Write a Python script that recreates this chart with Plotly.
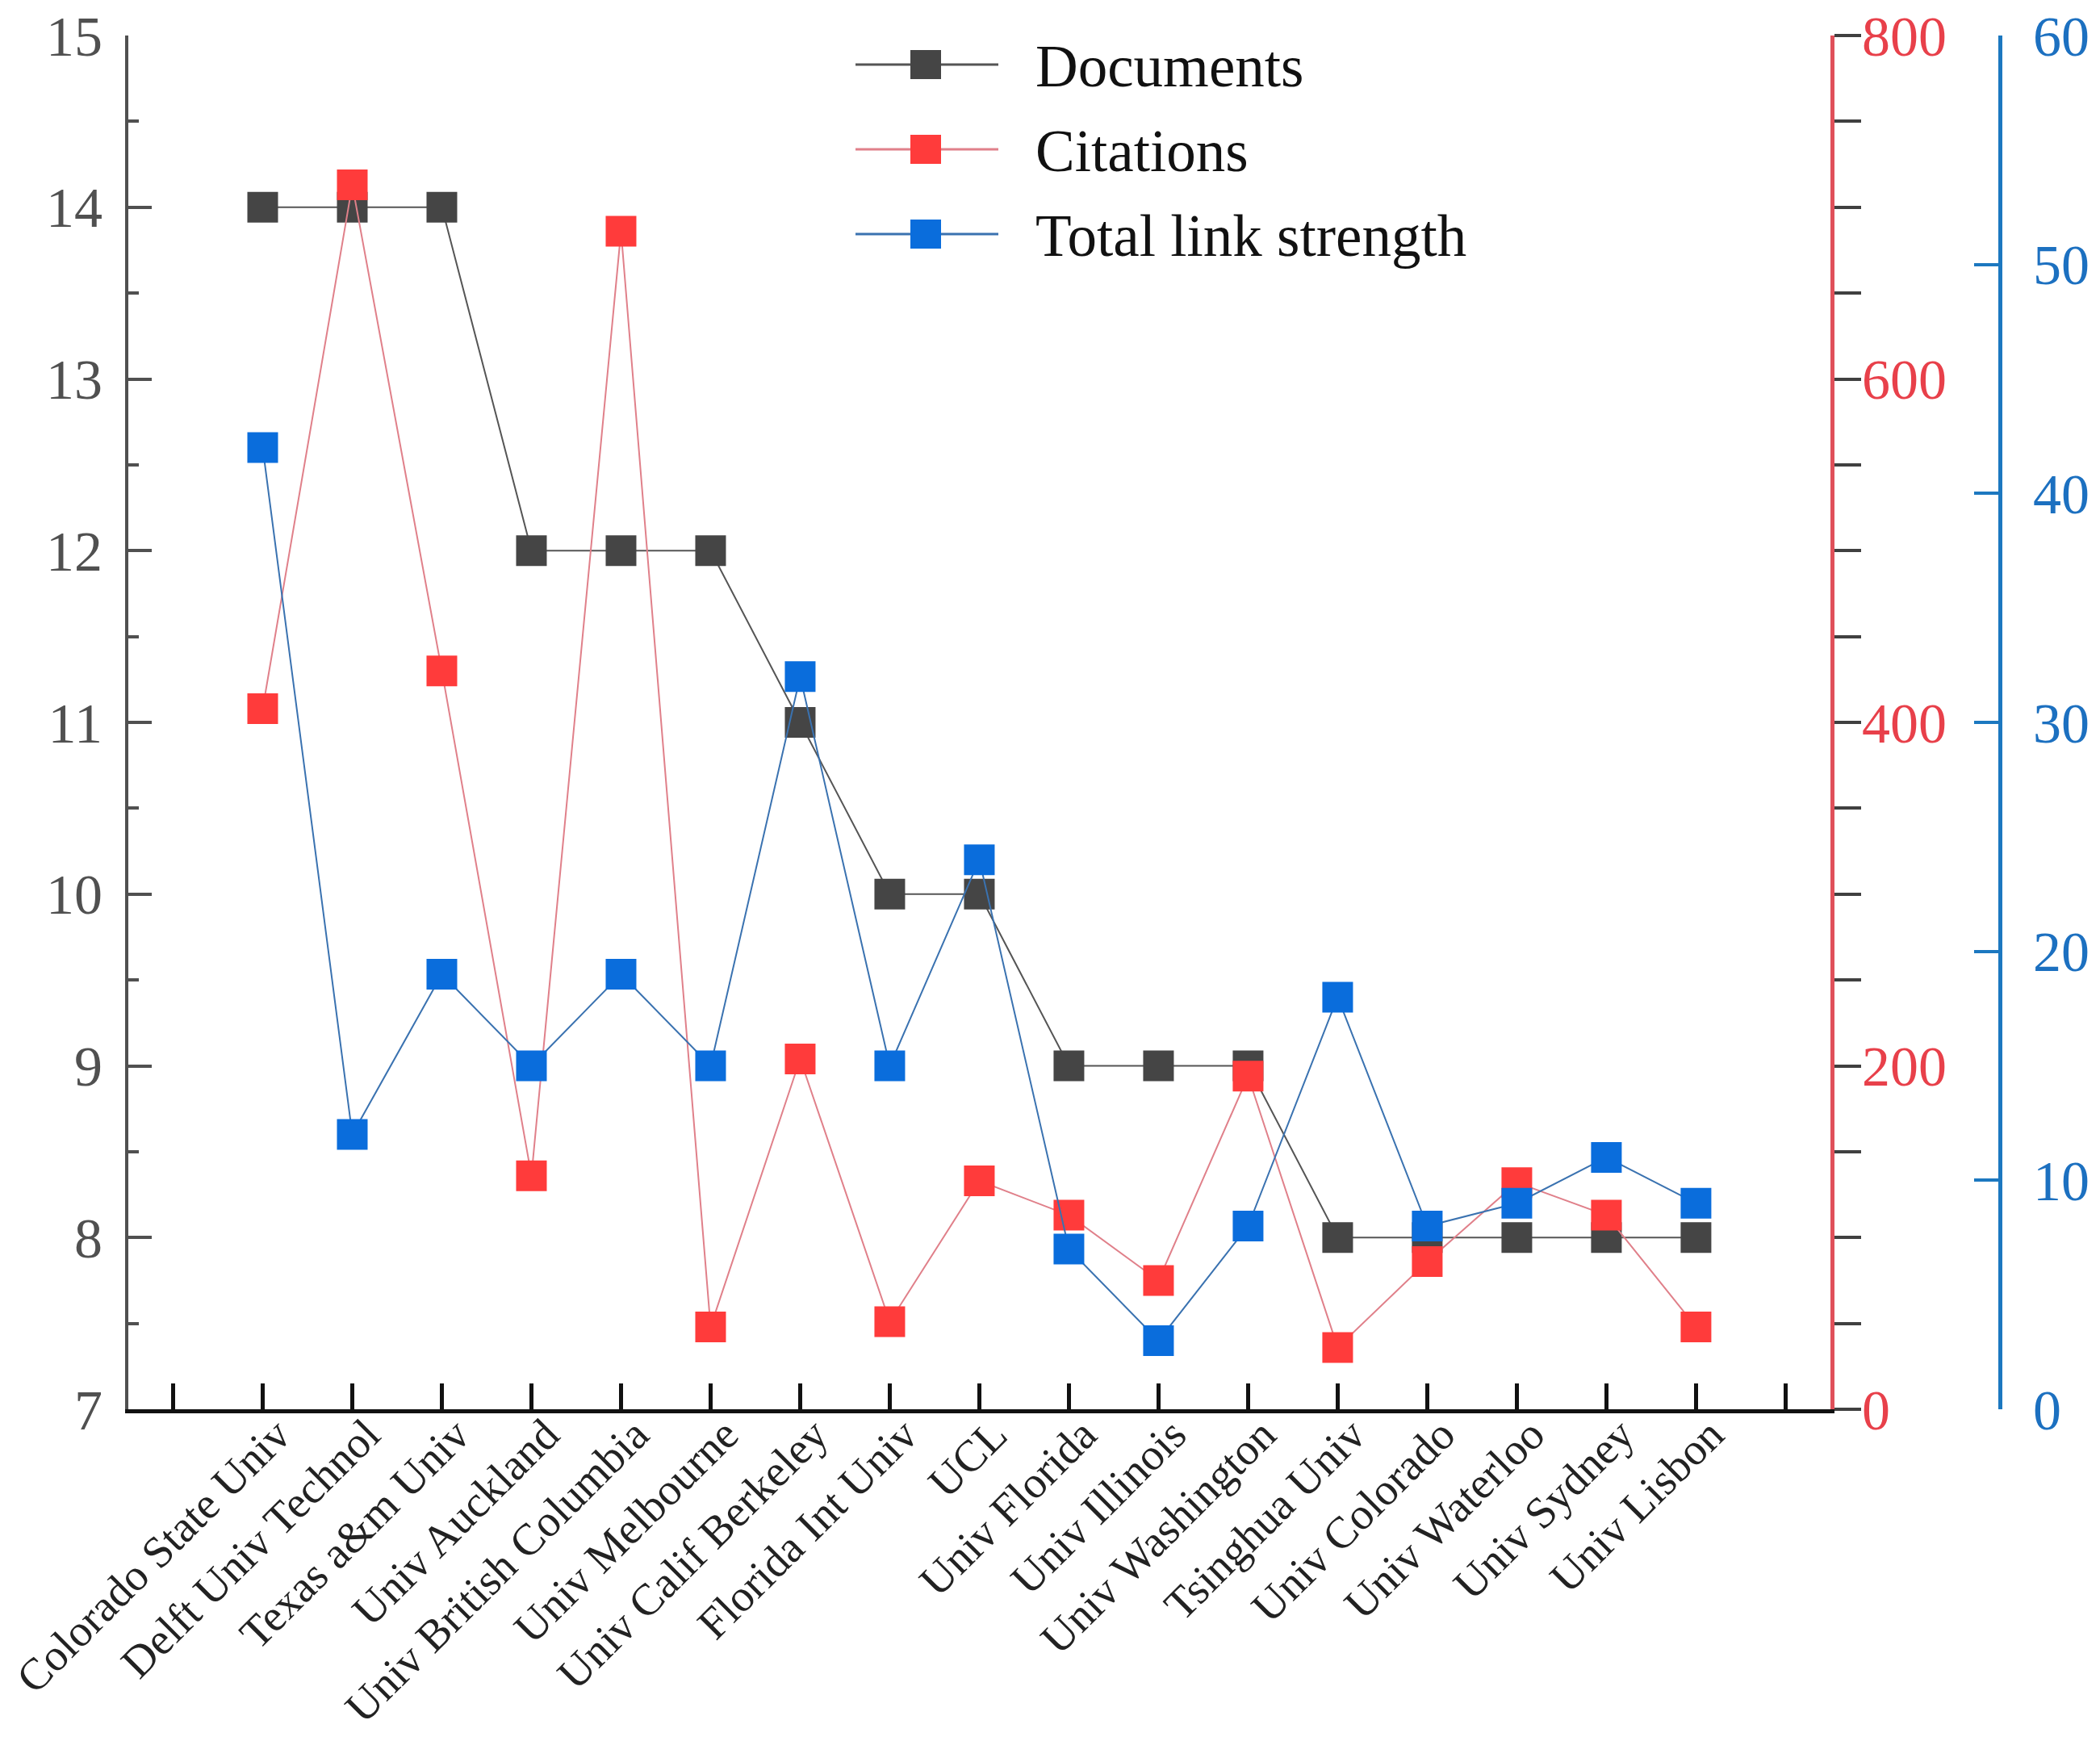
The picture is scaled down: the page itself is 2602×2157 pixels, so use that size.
import plotly.graph_objects as go

# universities on the x axis
institutions = [
    "Colorado State Univ", "Delft Univ Technol", "Texas a&m Univ", "Univ Auckland",
    "Univ British Columbia", "Univ Melbourne", "Univ Calif Berkeley", "Florida Int Univ",
    "UCL", "Univ Florida", "Univ Illinois", "Univ Washington", "Tsinghua Univ",
    "Univ Colorado", "Univ Waterloo", "Univ Sydney", "Univ Lisbon",
]
documents = [14, 14, 14, 12, 12, 12, 11, 10, 10, 9, 9, 9, 8, 8, 8, 8, 8]
citations = [408, 713, 430, 136, 686, 48, 204, 51, 133, 113, 75, 194, 36, 86, 132, 113, 48]
link_strength = [42, 12, 19, 15, 19, 15, 32, 15, 24, 7, 3, 8, 18, 8, 9, 11, 9]

doc_ticks = list(range(7, 16))
cit_ticks = [0, 200, 400, 600, 800]
tls_ticks = [0, 10, 20, 30, 40, 50, 60]

FONT = "Liberation Serif, Times New Roman, serif"
RED_AXIS = "#E0505A"
BLUE_AXIS = "#1C78C0"

# name, y-axis, marker colour, line colour
series = [
    ("Documents", documents, "y", "#454545", "#555555"),
    ("Citations", citations, "y2", "#FF3B3B", "#E0808A"),
    ("Total link strength", link_strength, "y3", "#0A6DDC", "#3A72B0"),
]

# page geometry (px); the page body keeps its default 8px margin
PAD = 8
W, H = 2602 - 2 * PAD, 2157 - 2 * PAD
L, T = 159 - PAD, 44 - PAD
R = W - (2478 - PAD)
B = H - (1746 - PAD)
plot_w = W - L - R
plot_h = H - T - B
x_end = 0.9094  # red axis sits here, blue axis at the far right


def px_x(px):
    # screen x of the original picture -> paper fraction
    return (px - PAD - L) / plot_w


def px_y(px):
    return (H - B - (px - PAD)) / plot_h


# category positions, with an empty tick slot at each end like the original
pos = list(range(len(institutions)))
tick_pos = list(range(-1, len(institutions) + 1))
tick_text = [""] + institutions + [""]

fig = go.Figure()
for name, vals, yax, mcol, lcol in series:
    fig.add_trace(go.Scatter(
        x=pos, y=vals, name=name, mode="lines+markers", yaxis=yax,
        line=dict(color=lcol, width=2),
        marker=dict(symbol="square", size=38, color=mcol, line=dict(width=0)),
        showlegend=False,
    ))

# legend drawn by hand so the symbols keep the big squares of the original
shapes = []
annotations = []
for i, (name, vals, yax, mcol, lcol) in enumerate(series):
    row = 80 + 105 * i
    yc = px_y(row)
    shapes.append(dict(type="line", xref="paper", yref="paper",
                       x0=px_x(1060), x1=px_x(1237), y0=yc, y1=yc,
                       line=dict(color=lcol, width=3)))
    shapes.append(dict(type="rect", xref="paper", yref="paper",
                       xsizemode="pixel", ysizemode="pixel",
                       xanchor=px_x(1147), yanchor=yc,
                       x0=-19, x1=19, y0=-18, y1=18,
                       fillcolor=mcol, line=dict(width=0)))
    annotations.append(dict(text=name, xref="paper", yref="paper",
                            x=px_x(1281), y=px_y(row + 2),
                            xanchor="left", yanchor="middle", showarrow=False,
                            font=dict(size=73, color="#111111", family=FONT)))

fig.update_layout(
    width=W, height=H,
    margin=dict(l=L, r=R, t=T, b=B),
    paper_bgcolor="white", plot_bgcolor="white",
    font=dict(family=FONT, color="#222222"),
    showlegend=False,
    shapes=shapes,
    annotations=annotations,
    xaxis=dict(
        domain=[0, x_end], range=[-1.5, 17.5], automargin=False,
        tickmode="array", tickvals=tick_pos, ticktext=tick_text,
        ticks="inside", ticklen=32, tickwidth=5, tickcolor="#111111",
        showline=True, linecolor="#111111", linewidth=5,
        showgrid=False, zeroline=False, tickangle=-45,
        ticklabelshift=18, ticklabelstandoff=-28, ticklabeloverflow="allow",
        tickfont=dict(size=55, color="#222222", family=FONT),
    ),
    yaxis=dict(
        range=[7, 15], tickmode="array", tickvals=doc_ticks, automargin=False,
        ticks="inside", ticklen=29, tickwidth=4, tickcolor="#505050",
        minor=dict(dtick=0.5, ticks="inside", ticklen=13, tickwidth=4, tickcolor="#505050"),
        showline=True, linecolor="#505050", linewidth=4,
        showgrid=False, zeroline=False, ticklabelstandoff=14,
        ticklabeloverflow="allow",
        tickfont=dict(size=70, color="#505050", family=FONT),
    ),
    yaxis2=dict(
        overlaying="y", side="right", anchor="x", automargin=False,
        range=[0, 800], tickmode="array", tickvals=cit_ticks,
        ticks="outside", ticklen=33, tickwidth=4, tickcolor="#404040",
        minor=dict(dtick=50, ticks="outside", ticklen=33, tickwidth=4, tickcolor="#404040"),
        showline=True, linecolor=RED_AXIS, linewidth=5,
        showgrid=False, zeroline=False, ticklabelstandoff=-13,
        ticklabeloverflow="allow",
        tickfont=dict(size=70, color="#E8404A", family=FONT),
    ),
    yaxis3=dict(
        overlaying="y", side="right", anchor="free", position=1, automargin=False,
        range=[0, 60], tickmode="array", tickvals=tls_ticks,
        ticks="inside", ticklen=30, tickwidth=4, tickcolor=BLUE_AXIS,
        showline=True, linecolor=BLUE_AXIS, linewidth=5,
        showgrid=False, zeroline=False, ticklabelstandoff=24,
        ticklabeloverflow="allow",
        tickfont=dict(size=70, color="#1C70C0", family=FONT),
    ),
    # red half of the major ticks, on the plot side of the citations axis
    yaxis4=dict(
        overlaying="y", side="left", anchor="free", position=x_end, automargin=False,
        range=[0, 800], tickmode="array", tickvals=cit_ticks,
        ticks="outside", ticklen=33, tickwidth=4, tickcolor=RED_AXIS,
        showticklabels=False, showline=False, showgrid=False, zeroline=False,
    ),
)

fig.write_html("out.html")
